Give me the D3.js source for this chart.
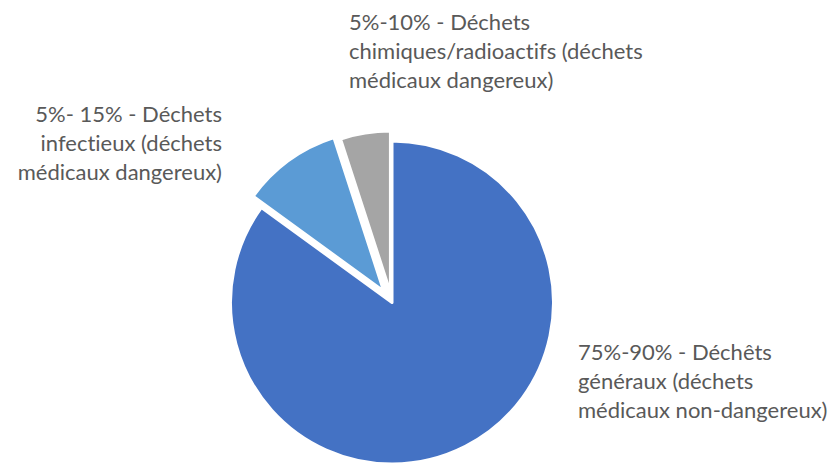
<!DOCTYPE html>
<html>
    <head>
        <style>
            body { margin: 0; background: white; }
            .label { font-family: Lato, "Open Sans", sans-serif; font-size: 22px; fill: #595959; font-variant-ligatures: none; }
        </style>
    </head>
    <body>
        <div id="chart"></div>
        <script src="https://cdn.jsdelivr.net/npm/d3@7"></script>
        <script>

//////////////////// data ////////////////////
const categories = [
    'Déchets généraux',
    'Déchets infectieux',
    'Déchets chimiques/radioactifs'
];
const values = [85, 10, 5];
const colors = ['#4472C4', '#5B9BD5', '#A5A5A5'];
const exploded = [0, 14, 10];
const labels = [
    ['75%-90% - Déchêts', 'généraux (déchets', 'médicaux non-dangereux)'],
    ['5%- 15% - Déchets', 'infectieux (déchets', 'médicaux dangereux)'],
    ['5%-10% - Déchets', 'chimiques/radioactifs (déchets', 'médicaux dangereux)']
];

//////////////////// layout ////////////////////
const W = 833, H = 464;
const cx = 392, cy = 302.5, R = 161.5;
const line_h = 29;

const svg = d3.select('#chart').append('svg')
    .attr('width', W)
    .attr('height', H);

const pie = d3.pie().sort(null).value(d => d);
const arcs = pie(values);
const arc = d3.arc().innerRadius(0).outerRadius(R);

const g = svg.append('g')
    .attr('transform', `translate(${cx}, ${cy})`);

g.selectAll('path')
    .data(arcs)
    .enter().append('path')
    .attr('d', arc)
    .attr('fill', (d, i) => colors[i])
    .attr('stroke', 'white')
    .attr('stroke-width', 3)
    .attr('stroke-linejoin', 'round')
    .attr('transform', (d, i) => {
        let mid = (d.startAngle + d.endAngle) / 2;
        let off = exploded[i];
        return `translate(${Math.sin(mid) * off}, ${-Math.cos(mid) * off})`;
    });

// labels: [x, first baseline, anchor]
const label_pos = [
    [578, 360, 'start'],
    [222, 121.5, 'end'],
    [349, 29.5, 'start']
];

labels.forEach((lines, i) => {
    let [x, y, anchor] = label_pos[i];
    let t = svg.append('text')
        .classed('label', true)
        .attr('text-anchor', anchor);
    lines.forEach((line, j) => {
        t.append('tspan')
            .attr('x', x)
            .attr('y', y + j * line_h)
            .text(line);
    });
});

        </script>
    </body>
</html>
